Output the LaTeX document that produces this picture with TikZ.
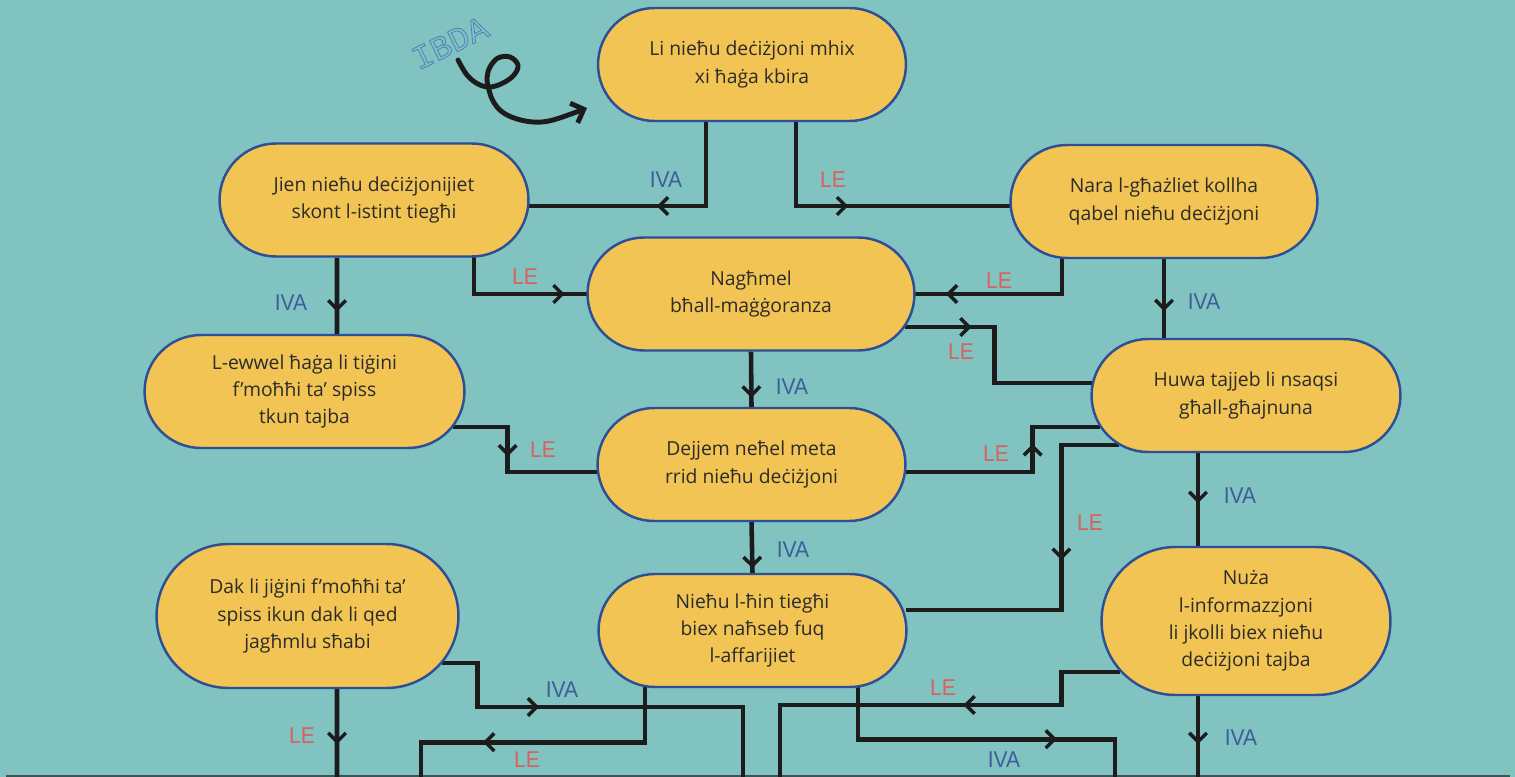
\documentclass[tikz,border=0pt]{standalone}
\usepackage{fontspec}
\setmainfont{Open Sans}
\newfontfamily\lblfont[FakeStretch=0.92]{Liberation Sans}
\newfontfamily\ibdafont{Liberation Mono}
\usepackage{xcolor}
\definecolor{dmteal}{HTML}{80C3C1}
\definecolor{dmyellow}{HTML}{F2C453}
\definecolor{dmblue}{HTML}{2E4F96}
\definecolor{dmline}{HTML}{1C1C1C}
\definecolor{dmtext}{HTML}{2B2B2B}
\definecolor{ivablue}{HTML}{3E5C9C}
\definecolor{lered}{HTML}{D8625E}
\definecolor{ibdablue}{HTML}{4F7FB8}
\definecolor{edgegray}{HTML}{3B5656}
\usetikzlibrary{arrows.meta,positioning,calc,shapes.misc,decorations.markings,backgrounds}
\tikzset{
  choice/.style={rounded rectangle,draw=dmblue,line width=1.4pt,fill=dmyellow,align=center,text=dmtext,
    font=\fontsize{11}{15.5}\selectfont,inner sep=2pt,minimum height=2.26cm,
    execute at begin node={\rule{0pt}{12pt}}},
  flow/.style={draw=dmline,line width=2.6pt},
  mid/.style={postaction={decorate,decoration={markings,
    mark=at position #1*0.02cm with {\arrow{Straight Barb[length=5pt,width=10pt,line width=2pt]}}}}},
  iva/.style={font=\lblfont\fontsize{13}{13}\selectfont,text=ivablue},
  le/.style={font=\lblfont\fontsize{13}{13}\selectfont,text=lered},
  swirl/.style={draw=dmline,line width=2.8pt,line cap=round,-{Straight Barb[length=6pt,width=12pt]}},
}

\begin{document}
\begin{tikzpicture}[x=0.02cm,y=-0.02cm]
\useasboundingbox (0,0) rectangle (1515,777);

% choices
\node[choice,minimum width=6.3cm] (start) at (752,64.5) {Li nieħu deċiżjoni mhix\\xi ħaġa kbira};
\node[choice,minimum width=6.32cm] (instinct) at (374,200) {Jien nieħu deċiżjonijiet\\skont l-istint tiegħi};
\node[choice,minimum width=6.28cm] (options) at (1164,201.5) {Nara l-għażliet kollha\\qabel nieħu deċiżjoni};
\node[choice,minimum width=6.68cm] (majority) at (751,294) {Nagħmel\\bħall-maġġoranza};
\node[choice,minimum width=6.54cm] (firstidea) at (304.5,391.5) {L-ewwel ħaġa li tiġini\\f’moħħi ta’ spiss\\tkun tajba};
\node[choice,minimum width=6.32cm] (askhelp) at (1246,395.5) {Huwa tajjeb li nsaqsi\\għall-għajnuna};
\node[choice,minimum width=6.3cm] (stuck) at (751.5,464.5) {Dejjem neħel meta\\rrid nieħu deċiżjoni};
\node[choice,minimum width=6.18cm,minimum height=2.88cm] (friends) at (307.5,616) {Dak li jiġini f’moħħi ta’\\spiss ikun dak li qed\\jagħmlu sħabi};
\node[choice,minimum width=6.3cm] (taketime) at (752.5,630.5) {Nieħu l-ħin tiegħi\\biex naħseb fuq\\l-affarijiet};
\node[choice,minimum width=5.92cm,minimum height=2.96cm] (useinfo) at (1246,621) {Nuża\\l-informazzjoni\\li jkolli biex nieħu\\deċiżjoni tajba};

% loose ends at the bottom
\coordinate (outA) at (337,777);
\coordinate (outB) at (743,777);
\coordinate (outC) at (421,777);
\coordinate (outD) at (1115,777);
\coordinate (outE) at (780,777);
\coordinate (outF) at (1198,777);

\begin{scope}[on background layer]
\fill[dmteal] (0,0) rectangle (1515,777);
\draw[edgegray,line width=1.2pt] (6,776.2) -- (1510,776.2);

\draw[flow,mid=133] ($(start.south)+(-46,0)$) |- ($(instinct.east)+(-2,6)$);
\draw[flow,mid=136] ($(start.south)+(44,0)$) |- ($(options.west)+(2,4.5)$);
\draw[flow,mid=54] ($(instinct.south)+(-37,0)$) -- ($(firstidea.north)+(32.5,0)$);
\draw[flow,mid=132] ($(instinct.south)+(100,-5)$) |- ($(majority.west)+(2,0)$);
\draw[flow,mid=156] ($(options.south)+(-102,-5)$) |- ($(majority.east)+(-2,0)$);
\draw[flow,mid=52] (options.south) -- ($(askhelp.north)+(-82,0)$);
\draw[flow,mid=67] ($(majority.east)+(-11,33)$) -- ++(90,0) |- ($(askhelp.west)+(2,-12.5)$);
\draw[flow,mid=46] (majority.south) -- (stuck.north);
\draw[flow,mid=84] ($(firstidea.east)+(-12.5,35.5)$) -- ++(54.5,0) |- ($(stuck.west)+(2,7.5)$);
\draw[flow,mid=156] ($(stuck.east)+(-2,7.5)$) -- ++(128,0) |- ($(askhelp.west)+(10,31.5)$);
\draw[flow,mid=173] ($(askhelp.west)+(29,49.5)$) -- ++(-58,0) |- ($(taketime.east)+(-2,-20.5)$);
\draw[flow,mid=46] (stuck.south) -- (taketime.north);
\draw[flow,mid=50] ($(askhelp.south)+(-48,0)$) -- ($(useinfo.north)+(-48,0)$);
\draw[flow,mid=55] ($(friends.south)+(29.5,0)$) -- (outA);
\draw[flow,mid=141] ($(friends.east)+(-17.5,47)$) -- ++(35.5,0) -- ++(0,44) -| (outB);
\draw[flow,mid=221] ($(taketime.south)+(-107.5,-5)$) -- ++(0,59) -| (outC);
\draw[flow,mid=254] ($(taketime.south)+(105.5,-4)$) -- ++(0,55) -| (outD);
\draw[flow,mid=190] ($(useinfo.west)+(20,51)$) -- ++(-59,0) -- ++(0,33) -| (outE);
\draw[flow,mid=48] ($(useinfo.south)+(-48,0)$) -- (outF);
\end{scope}

% answers
\node[iva] (ivaA) at (666,180) {IVA};
\node[le] (leA) at (833,180) {LE};
\node[iva] (ivaB) at (291,303) {IVA};
\node[le] (leB) at (525,277) {LE};
\node[le] (leC) at (999,281) {LE};
\node[iva] (ivaC) at (1204,302) {IVA};
\node[le] (leD) at (961,352) {LE};
\node[iva] (ivaD) at (792,387) {IVA};
\node[le] (leE) at (543,450) {LE};
\node[le] (leF) at (996,454) {LE};
\node[le] (leG) at (1090,523) {LE};
\node[iva] (ivaE) at (793,550) {IVA};
\node[iva] (ivaF) at (1240,496) {IVA};
\node[le] (leH) at (302,736) {LE};
\node[iva] (ivaG) at (562,690) {IVA};
\node[le] (leI) at (527,760) {LE};
\node[iva] (ivaH) at (1004,760) {IVA};
\node[le] (leJ) at (943,688) {LE};
\node[iva] (ivaI) at (1241,738) {IVA};

% start marker
\node[rotate=26,text=ibdablue,font=\ibdafont\fontsize{19}{19}\selectfont] (ibda) at (450,43)
  {\special{pdf:literal direct 1 Tr 0.45 w}IBDA\special{pdf:literal direct 0 Tr}};
\draw[swirl] plot[smooth,tension=0.6] coordinates {(458,60) (467,75) (478,84) (490,87) (503,83) (514,75) (518,65) (510,57) (498,58) (490,67) (487,78) (489,90) (493,101) (501,111) (514,118) (533,122) (553,120) (587,108)};
\end{tikzpicture}
\end{document}
